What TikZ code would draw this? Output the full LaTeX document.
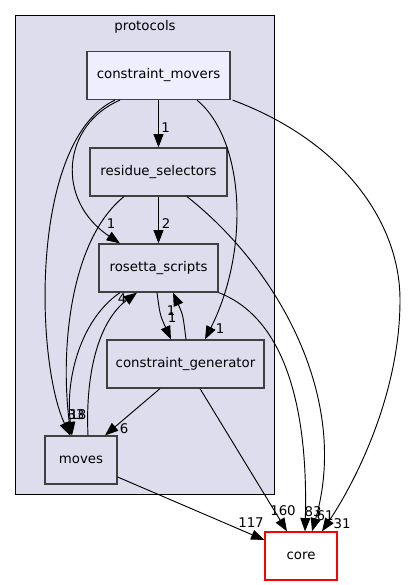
\documentclass[tikz,border=0pt]{standalone}
\usepackage{fontspec}
\setmainfont{DejaVu Sans}
\usetikzlibrary{arrows.meta,calc}
\definecolor{clfill}{HTML}{DDDDEE}
\definecolor{hifill}{HTML}{EEEEFF}
\definecolor{dirline}{HTML}{404040}
\begin{document}
\begin{tikzpicture}[x=0.75pt,y=-0.75pt,
  dir/.style={draw=dirline, line width=0.9pt, fill=clfill, minimum height=36pt, inner sep=0pt, font=\fontsize{10}{12}\selectfont},
  lbl/.style={inner sep=0pt, font=\fontsize{10}{12}\selectfont},
  dep/.style={line width=0.7pt, -{Triangle[length=10pt,width=7.5pt]}}]
\useasboundingbox (0,0) rectangle (408,585);
\draw[fill=clfill, line width=0.7pt] (15.5,15.5) rectangle (274.5,494.5);
\node[lbl] (cl) at (145,27) {protocols};
\node[dir, fill=hifill, minimum width=107.25pt] (cm) at (158.5,75.5) {constraint\_movers};
\node[dir, minimum width=102.75pt] (rs) at (158.5,172) {residue\_selectors};
\node[dir, minimum width=89.25pt] (ro) at (158.5,268) {rosetta\_scripts};
\node[dir, minimum width=117.75pt] (cg) at (185.5,364) {constraint\_generator};
\node[dir, minimum width=54pt] (mv) at (81,460) {moves};
\node[dir, draw=red, fill=white, minimum width=54pt] (co) at (301,556) {core};
\draw[dep] (cm.south) -- (rs.north);
\draw[dep] (rs.south) -- (ro.north);
\draw[dep] ($(cm.south)+(-38.5,0)$) .. controls (62,125) and (55,200) .. ($(ro.north)+(-38.5,0)$);
\draw[dep] ($(cm.south)+(-43.5,0)$) .. controls (30,140) and (35,360) .. ($(mv.north)+(-11,0)$);
\draw[dep] ($(rs.south)+(-34.5,0)$) .. controls (70,240) and (60,350) .. ($(mv.north)+(-10,0)$);
\draw[dep] ($(ro.south)+(-38.5,0)$) .. controls (80,320) and (65,380) .. ($(mv.north)+(-9,0)$);
\draw[dep] ($(mv.north)+(7,0)$) .. controls (85,370) and (100,320) .. ($(ro.south)+(-21.5,0)$);
\draw[dep] ($(cm.south)+(38.5,0)$) .. controls (245,140) and (250,250) .. ($(cg.north)+(19.5,0)$);
\draw[dep] ($(ro.south)+(-1.5,0)$) .. controls (160,315) .. ($(cg.north)+(-14.5,0)$);
\draw[dep] ($(cg.north)+(0.5,0)$) .. controls (183,315) .. ($(ro.south)+(14.5,0)$);
\draw[dep] ($(cg.south)+(-25.5,0)$) -- ($(mv.north)+(24,0)$);
\draw[dep] ($(cg.south)+(14.5,0)$) -- ($(co.north)+(-14,0)$);
\draw[dep] ($(mv.east)+(0,17)$) -- ($(co.west)+(0,-16)$);
\draw[dep] ($(cm.south east)+(2,0)$) .. controls (340,140) and (400,220) .. (400,300) .. controls (400,400) and (350,490) .. ($(co.north)+(21,0)$);
\draw[dep] (ro.south east) .. controls (290,320) and (308,420) .. ($(co.north)+(4,0)$);
\draw[dep] ($(rs.south)+(28.5,0)$) .. controls (280,270) and (350,400) .. ($(co.north)+(11,0)$);
\node[lbl] (n1) at (165.5,128) {1};
\node[lbl] (n2) at (166,224) {2};
\node[lbl] (n3) at (111,224) {1};
\node[lbl] (n4) at (122,299) {4};
\node[lbl] (n5) at (171,311) {1};
\node[lbl] (n6) at (172,318) {1};
\node[lbl] (n7) at (220,329) {1};
\node[lbl] (n8) at (124,429) {6};
\node[lbl] (n9) at (76,415) {33};
\node[lbl] (n10) at (78,415) {18};
\node[lbl] (n11) at (283,511) {160};
\node[lbl] (n12) at (251,523) {117};
\node[lbl] (n13) at (313,512) {83};
\node[lbl] (n14) at (325,516) {61};
\node[lbl] (n15) at (342,524) {31};
\end{tikzpicture}
\end{document}
